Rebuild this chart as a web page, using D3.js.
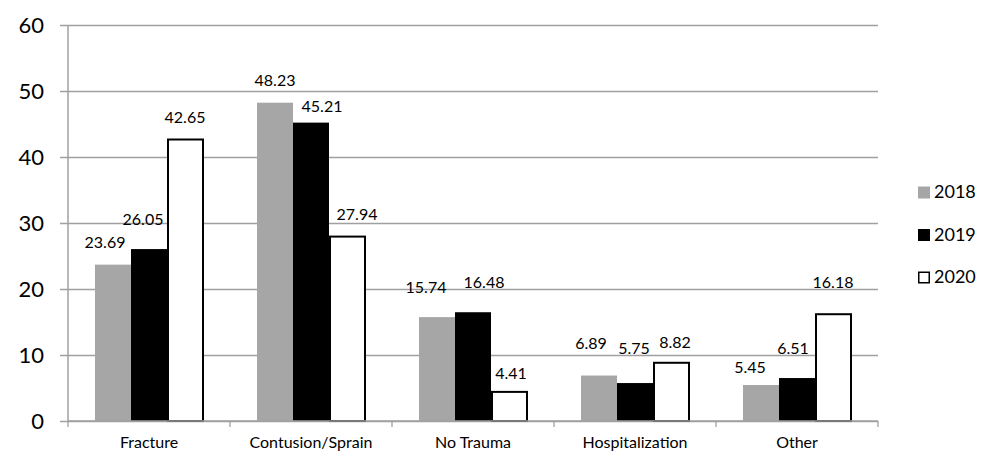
<!DOCTYPE html>
<html>
<head>
<meta charset="utf-8">
<script src="https://cdn.jsdelivr.net/npm/d3@7"></script>
<style>
  html, body { margin: 0; padding: 0; background: #fff; }
  svg { display: block; font-family: Lato, "Open Sans", sans-serif; }
</style>
</head>
<body>
<svg id="chart" width="988" height="453"></svg>
<script>
// Categories and yearly values (percent)
const categories = ["Fracture", "Contusion/Sprain", "No Trauma", "Hospitalization", "Other"];
const years = ["2018", "2019", "2020"];
const values2018 = [23.69, 48.23, 15.74, 6.89, 5.45];
const values2019 = [26.05, 45.21, 16.48, 5.75, 6.51];
const values2020 = [42.65, 27.94, 4.41, 8.82, 16.18];
const yTicks = [0, 10, 20, 30, 40, 50, 60];

// Value-label nudges relative to each bar's centre / top, per year
const labelNudge2018 = [[-8, -22], [0, -22], [-11, -30], [-8, -32], [-11, -18]];
const labelNudge2019 = [[-6, -30], [11, -16], [11, -30], [-1, -35], [-4, -30]];
const labelNudge2020 = [[0, -22], [10, -22], [2, -19], [4, -21], [0, -32]];

const seriesValues = [values2018, values2019, values2020];
const seriesNudges = [labelNudge2018, labelNudge2019, labelNudge2020];
const fills = ["#a6a6a6", "#000000", "#ffffff"];
const strokes = ["none", "none", "#000000"];

const svg = d3.select("#chart");
const plot = { left: 68, right: 878, top: 25, bottom: 421 };
const gridColor = "#a0a0a0";

const x0 = d3.scaleBand().domain(categories).range([plot.left, plot.right]).padding(0);
const x1 = d3.scaleBand().domain(years).range([0, x0.bandwidth()]).paddingInner(0).paddingOuter(0.75);
const y = d3.scaleLinear().domain([0, 60]).range([plot.bottom, plot.top]);

// Horizontal gridlines with outward tick stubs and labels
const yAxis = d3.axisLeft(y).tickValues(yTicks).tickSize(-(plot.right - plot.left)).tickPadding(24);
const gy = svg.append("g").attr("transform", `translate(${plot.left},0)`).call(yAxis);
gy.select(".domain").remove();
gy.selectAll(".tick line").attr("stroke", gridColor).attr("stroke-width", 1.3).attr("x1", -8);
gy.selectAll(".tick text").attr("font-size", 22).attr("fill", "#000").attr("font-family", "Lato, sans-serif");

// Vertical axis line
svg.append("line")
  .attr("x1", plot.left).attr("x2", plot.left)
  .attr("y1", y(60)).attr("y2", y(0))
  .attr("stroke", gridColor).attr("stroke-width", 1.5);

// Bars
const rows = categories.map((c, i) => ({ cat: c, i }));
years.forEach((yr, s) => {
  svg.append("g").selectAll("rect")
    .data(rows)
    .join("rect")
    .attr("x", d => x0(d.cat) + x1(yr) + (s === 2 ? 1 : 0))
    .attr("y", d => y(seriesValues[s][d.i]))
    .attr("width", x1.bandwidth() - (s === 2 ? 1 : 0))
    .attr("height", d => y(0) - y(seriesValues[s][d.i]))
    .attr("fill", fills[s])
    .attr("stroke", strokes[s])
    .attr("stroke-width", s === 2 ? 2 : 0);
});

// Category axis along the baseline with boundary ticks
const gx = svg.append("g").attr("transform", `translate(0,${plot.bottom})`);
gx.append("line")
  .attr("x1", plot.left).attr("x2", plot.right)
  .attr("stroke", gridColor).attr("stroke-width", 1.5);
const bounds = categories.map(c => x0(c)).concat([plot.right]);
gx.selectAll("line.b").data(bounds).join("line")
  .attr("class", "b")
  .attr("x1", d => d).attr("x2", d => d)
  .attr("y1", 0).attr("y2", 6)
  .attr("stroke", gridColor).attr("stroke-width", 1.3);
gx.selectAll("text").data(categories).join("text")
  .attr("x", d => x0(d) + x0.bandwidth() / 2)
  .attr("y", 27)
  .attr("text-anchor", "middle")
  .attr("font-size", 16)
  .attr("fill", "#000")
  .text(d => d);

// Value labels
years.forEach((yr, s) => {
  svg.append("g").selectAll("text")
    .data(rows)
    .join("text")
    .attr("x", d => x0(d.cat) + x1(yr) + x1.bandwidth() / 2 + seriesNudges[s][d.i][0])
    .attr("y", d => y(seriesValues[s][d.i]) + seriesNudges[s][d.i][1])
    .attr("dy", "0.36em")
    .attr("text-anchor", "middle")
    .attr("font-size", 16)
    .attr("fill", "#000")
    .text(d => seriesValues[s][d.i].toFixed(2));
});

// Legend
const legend = svg.append("g").attr("transform", "translate(918,192)");
years.forEach((yr, s) => {
  const g = legend.append("g").attr("transform", `translate(0,${s * 42.5})`);
  g.append("rect")
    .attr("x", s === 2 ? 0.75 : 0).attr("y", s === 2 ? -4.75 : -5.5)
    .attr("width", s === 2 ? 10.5 : 12).attr("height", s === 2 ? 10.5 : 12)
    .attr("fill", fills[s])
    .attr("stroke", strokes[s])
    .attr("stroke-width", s === 2 ? 1.5 : 0);
  g.append("text")
    .attr("x", 16).attr("y", 0).attr("dy", "0.36em")
    .attr("font-size", 18).attr("fill", "#000")
    .text(yr);
});
</script>
</body>
</html>
